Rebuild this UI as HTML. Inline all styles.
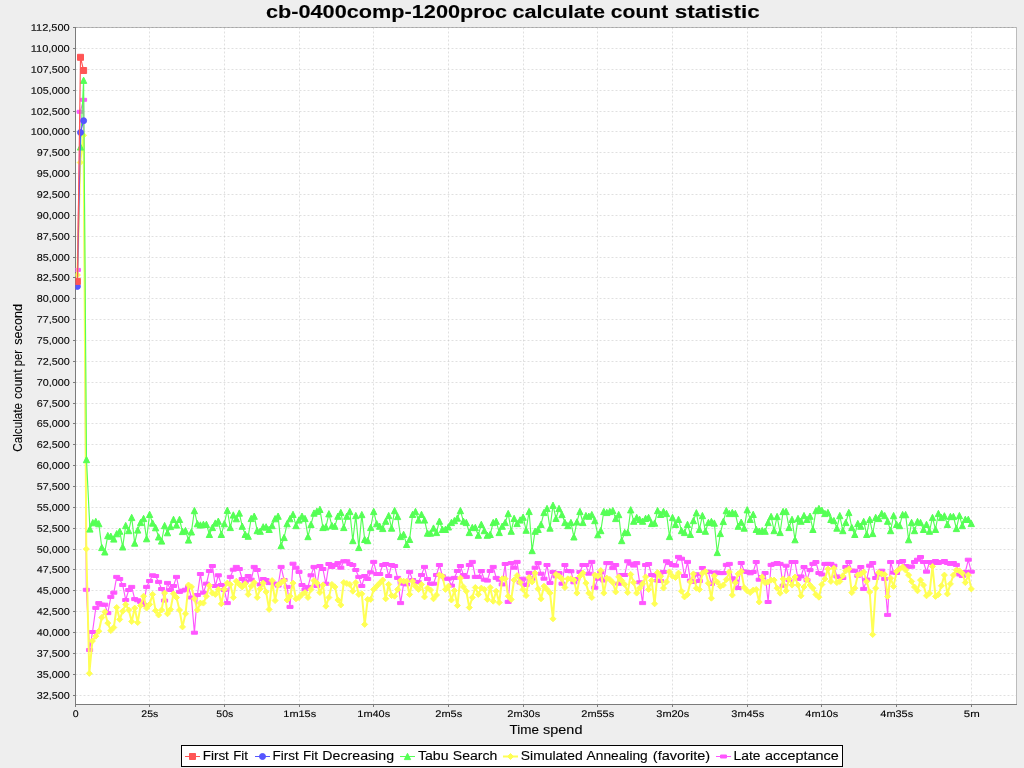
<!DOCTYPE html><html><head><meta charset="utf-8"><title>chart</title><style>html,body{margin:0;padding:0;background:#eeeeee;overflow:hidden}svg{display:block}text{font-family:"Liberation Sans",sans-serif;fill:#000}</style></head><body>
<svg width="1024" height="768" viewBox="0 0 1024 768">
<rect x="0" y="0" width="1024" height="768" fill="#eeeeee"/>
<rect x="76" y="28" width="940" height="676" fill="#ffffff"/>
<path d="M75.5 695.5H1016.5 M75.5 674.5H1016.5 M75.5 653.5H1016.5 M75.5 632.5H1016.5 M75.5 611.5H1016.5 M75.5 590.5H1016.5 M75.5 569.5H1016.5 M75.5 549.5H1016.5 M75.5 528.5H1016.5 M75.5 507.5H1016.5 M75.5 486.5H1016.5 M75.5 465.5H1016.5 M75.5 444.5H1016.5 M75.5 423.5H1016.5 M75.5 403.5H1016.5 M75.5 382.5H1016.5 M75.5 361.5H1016.5 M75.5 340.5H1016.5 M75.5 319.5H1016.5 M75.5 298.5H1016.5 M75.5 277.5H1016.5 M75.5 257.5H1016.5 M75.5 236.5H1016.5 M75.5 215.5H1016.5 M75.5 194.5H1016.5 M75.5 173.5H1016.5 M75.5 152.5H1016.5 M75.5 131.5H1016.5 M75.5 111.5H1016.5 M75.5 90.5H1016.5 M75.5 69.5H1016.5 M75.5 48.5H1016.5 M149.5 27.5V704.5 M224.5 27.5V704.5 M299.5 27.5V704.5 M373.5 27.5V704.5 M448.5 27.5V704.5 M523.5 27.5V704.5 M597.5 27.5V704.5 M672.5 27.5V704.5 M747.5 27.5V704.5 M821.5 27.5V704.5 M896.5 27.5V704.5 M971.5 27.5V704.5" stroke="#c0c0c0" stroke-width="0.5" stroke-dasharray="2 2" fill="none"/>
<path d="M75.5 27.5H1016.5V704.5" stroke="#bcbcbc" stroke-width="1" fill="none"/>
<path d="M75.5 27.5H1016.5" stroke="#909090" stroke-width="0.5" stroke-dasharray="2 2" fill="none"/>
<path d="M75.5 27V705M75 704.5H1017" stroke="#7b7b7b" stroke-width="1" fill="none" shape-rendering="crispEdges"/>
<path d="M73 695.5H75 M73 674.5H75 M73 653.5H75 M73 632.5H75 M73 611.5H75 M73 590.5H75 M73 569.5H75 M73 549.5H75 M73 528.5H75 M73 507.5H75 M73 486.5H75 M73 465.5H75 M73 444.5H75 M73 423.5H75 M73 403.5H75 M73 382.5H75 M73 361.5H75 M73 340.5H75 M73 319.5H75 M73 298.5H75 M73 277.5H75 M73 257.5H75 M73 236.5H75 M73 215.5H75 M73 194.5H75 M73 173.5H75 M73 152.5H75 M73 131.5H75 M73 111.5H75 M73 90.5H75 M73 69.5H75 M73 48.5H75 M73 27.5H75 M75.5 705V707 M149.5 705V707 M224.5 705V707 M299.5 705V707 M373.5 705V707 M448.5 705V707 M523.5 705V707 M597.5 705V707 M672.5 705V707 M747.5 705V707 M821.5 705V707 M896.5 705V707 M971.5 705V707" stroke="#7b7b7b" stroke-width="1" fill="none" shape-rendering="crispEdges"/>
<clipPath id="c"><rect x="75.5" y="27.5" width="941" height="677"/></clipPath><g clip-path="url(#c)">
<path d="M77.4 269.9 L80.2 111.8 L83.6 99.8 L86.3 589.8 L89.6 650.0 L92.5 632.0 L95.8 607.9 L98.8 603.1 L101.8 604.8 L104.8 604.8 L107.8 613.1 L110.8 596.9 L113.8 592.8 L116.7 576.9 L119.7 579.0 L122.7 585.0 L125.7 600.0 L128.7 590.0 L131.7 586.9 L134.7 599.1 L137.7 600.2 L140.6 601.9 L143.6 604.8 L146.6 586.9 L149.6 581.0 L152.6 575.2 L155.6 576.0 L158.6 581.9 L161.6 589.0 L164.6 600.6 L167.5 582.9 L170.5 590.0 L173.5 586.0 L176.5 576.9 L179.5 591.9 L182.5 590.6 L185.5 589.8 L188.5 586.9 L191.4 597.5 L194.4 632.8 L197.4 595.0 L200.4 574.0 L203.4 592.8 L206.4 583.8 L209.4 571.0 L212.4 566.0 L215.3 586.0 L218.3 575.2 L221.3 585.0 L224.3 590.0 L227.3 603.1 L230.3 576.9 L233.3 569.8 L236.3 566.9 L239.3 569.0 L242.2 579.0 L245.2 581.9 L248.2 576.0 L251.2 579.8 L254.2 566.9 L257.2 570.0 L260.2 584.4 L263.2 579.0 L266.1 580.0 L269.1 583.1 L272.1 583.1 L275.1 583.8 L278.1 585.6 L281.1 566.9 L284.1 580.0 L287.1 586.9 L290.0 606.9 L293.0 563.8 L296.0 567.8 L299.0 571.9 L302.0 585.0 L305.0 589.4 L308.0 586.9 L311.0 575.2 L314.0 566.9 L316.9 586.0 L319.9 566.0 L322.9 569.0 L325.9 583.8 L328.9 564.0 L331.9 566.9 L334.9 565.0 L337.9 563.1 L340.8 567.8 L343.8 561.2 L346.8 561.2 L349.8 564.0 L352.8 565.0 L355.8 570.0 L358.8 576.9 L361.8 586.0 L364.7 576.0 L367.7 579.0 L370.7 572.2 L373.7 561.9 L376.7 574.0 L379.7 574.0 L382.7 565.0 L385.7 564.0 L388.7 576.0 L391.6 565.0 L394.6 566.0 L397.6 577.9 L400.6 603.1 L403.6 583.8 L406.6 584.4 L409.6 571.9 L412.6 580.0 L415.5 581.9 L418.5 582.2 L421.5 575.0 L424.5 566.9 L427.5 579.0 L430.5 583.8 L433.5 583.8 L436.5 575.0 L439.4 565.0 L442.4 576.2 L445.4 578.8 L448.4 578.8 L451.4 585.6 L454.4 577.9 L457.4 571.0 L460.4 566.0 L463.4 575.0 L466.3 576.9 L469.3 565.0 L472.3 561.9 L475.3 576.9 L478.3 576.9 L481.3 571.0 L484.3 579.8 L487.3 580.6 L490.2 571.0 L493.2 566.9 L496.2 577.9 L499.2 579.8 L502.2 584.4 L505.2 564.0 L508.2 601.9 L511.2 563.1 L514.1 567.8 L517.1 561.9 L520.1 582.5 L523.1 578.8 L526.1 585.0 L529.1 572.9 L532.1 578.8 L535.1 567.8 L538.1 563.1 L541.0 573.8 L544.0 578.8 L547.0 565.0 L550.0 582.9 L553.0 571.9 L556.0 576.2 L559.0 573.1 L562.0 583.8 L564.9 565.0 L567.9 571.0 L570.9 571.2 L573.9 582.2 L576.9 579.0 L579.9 571.9 L582.9 565.0 L585.9 565.0 L588.8 573.8 L591.8 561.9 L594.8 587.8 L597.8 578.8 L600.8 572.5 L603.8 580.6 L606.8 563.1 L609.8 563.1 L612.8 568.1 L615.7 565.0 L618.7 583.8 L621.7 575.0 L624.7 575.0 L627.7 561.2 L630.7 563.8 L633.7 565.6 L636.7 563.1 L639.6 582.2 L642.6 603.1 L645.6 565.0 L648.6 564.0 L651.6 575.0 L654.6 575.6 L657.6 580.6 L660.6 581.0 L663.5 571.9 L666.5 561.2 L669.5 563.1 L672.5 565.0 L675.5 565.6 L678.5 556.9 L681.5 558.8 L684.5 576.0 L687.5 561.9 L690.4 580.6 L693.4 582.0 L696.4 574.2 L699.4 581.0 L702.4 568.0 L705.4 572.0 L708.4 571.8 L711.4 583.9 L714.3 572.5 L717.3 572.5 L720.3 573.1 L723.3 573.1 L726.3 564.9 L729.3 563.9 L732.3 578.2 L735.3 581.4 L738.2 588.0 L741.2 563.0 L744.2 571.4 L747.2 572.0 L750.2 573.2 L753.2 572.0 L756.2 562.0 L759.2 579.8 L762.2 577.0 L765.1 573.0 L768.1 602.0 L771.1 564.9 L774.1 563.9 L777.1 563.0 L780.1 563.9 L783.1 585.8 L786.1 565.8 L789.0 580.1 L792.0 562.0 L795.0 562.0 L798.0 578.9 L801.0 576.4 L804.0 567.0 L807.0 580.1 L810.0 570.1 L812.9 563.9 L815.9 562.0 L818.9 573.0 L821.9 574.5 L824.9 563.9 L827.9 563.9 L830.9 563.9 L833.9 565.8 L836.9 576.4 L839.8 577.0 L842.8 578.0 L845.8 567.0 L848.8 562.0 L851.8 570.8 L854.8 570.8 L857.8 575.8 L860.8 567.0 L863.7 588.9 L866.7 579.5 L869.7 565.8 L872.7 563.0 L875.7 578.0 L878.7 574.5 L881.7 570.8 L884.7 578.9 L887.6 614.9 L890.6 562.0 L893.6 572.6 L896.6 573.0 L899.6 562.0 L902.6 561.0 L905.6 566.0 L908.6 566.8 L911.6 566.8 L914.5 562.0 L917.5 559.8 L920.5 557.0 L923.5 562.0 L926.5 571.8 L929.5 562.0 L932.5 563.0 L935.5 561.0 L938.4 563.0 L941.4 562.0 L944.4 561.0 L947.4 563.0 L950.4 563.9 L953.4 563.0 L956.4 564.9 L959.4 574.5 L962.3 576.0 L965.3 572.0 L968.3 559.8 L971.3 571.8" stroke="#ff55ff" stroke-width="1.15" fill="none" stroke-linejoin="round" opacity="1.0"/>
<path d="M74.4 268.4h6v3h-6zM77.2 110.3h6v3h-6zM80.6 98.3h6v3h-6zM83.3 588.3h6v3h-6zM86.6 648.5h6v3h-6zM89.5 630.5h6v3h-6zM92.8 606.4h6v3h-6zM95.8 601.6h6v3h-6zM98.8 603.2h6v3h-6zM101.8 603.2h6v3h-6zM104.8 611.6h6v3h-6zM107.8 595.4h6v3h-6zM110.8 591.2h6v3h-6zM113.7 575.4h6v3h-6zM116.7 577.5h6v3h-6zM119.7 583.5h6v3h-6zM122.7 598.5h6v3h-6zM125.7 588.5h6v3h-6zM128.7 585.4h6v3h-6zM131.7 597.6h6v3h-6zM134.7 598.8h6v3h-6zM137.6 600.4h6v3h-6zM140.6 603.2h6v3h-6zM143.6 585.4h6v3h-6zM146.6 579.5h6v3h-6zM149.6 573.8h6v3h-6zM152.6 574.5h6v3h-6zM155.6 580.4h6v3h-6zM158.6 587.5h6v3h-6zM161.6 599.1h6v3h-6zM164.5 581.4h6v3h-6zM167.5 588.5h6v3h-6zM170.5 584.5h6v3h-6zM173.5 575.4h6v3h-6zM176.5 590.4h6v3h-6zM179.5 589.1h6v3h-6zM182.5 588.2h6v3h-6zM185.5 585.4h6v3h-6zM188.4 596.0h6v3h-6zM191.4 631.2h6v3h-6zM194.4 593.5h6v3h-6zM197.4 572.5h6v3h-6zM200.4 591.2h6v3h-6zM203.4 582.2h6v3h-6zM206.4 569.5h6v3h-6zM209.4 564.5h6v3h-6zM212.3 584.5h6v3h-6zM215.3 573.8h6v3h-6zM218.3 583.5h6v3h-6zM221.3 588.5h6v3h-6zM224.3 601.6h6v3h-6zM227.3 575.4h6v3h-6zM230.3 568.2h6v3h-6zM233.3 565.4h6v3h-6zM236.3 567.5h6v3h-6zM239.2 577.5h6v3h-6zM242.2 580.4h6v3h-6zM245.2 574.5h6v3h-6zM248.2 578.2h6v3h-6zM251.2 565.4h6v3h-6zM254.2 568.5h6v3h-6zM257.2 582.9h6v3h-6zM260.2 577.5h6v3h-6zM263.1 578.5h6v3h-6zM266.1 581.6h6v3h-6zM269.1 581.6h6v3h-6zM272.1 582.2h6v3h-6zM275.1 584.1h6v3h-6zM278.1 565.4h6v3h-6zM281.1 578.5h6v3h-6zM284.1 585.4h6v3h-6zM287.0 605.4h6v3h-6zM290.0 562.2h6v3h-6zM293.0 566.2h6v3h-6zM296.0 570.4h6v3h-6zM299.0 583.5h6v3h-6zM302.0 587.9h6v3h-6zM305.0 585.4h6v3h-6zM308.0 573.8h6v3h-6zM311.0 565.4h6v3h-6zM313.9 584.5h6v3h-6zM316.9 564.5h6v3h-6zM319.9 567.5h6v3h-6zM322.9 582.2h6v3h-6zM325.9 562.5h6v3h-6zM328.9 565.4h6v3h-6zM331.9 563.5h6v3h-6zM334.9 561.6h6v3h-6zM337.8 566.2h6v3h-6zM340.8 559.8h6v3h-6zM343.8 559.8h6v3h-6zM346.8 562.5h6v3h-6zM349.8 563.5h6v3h-6zM352.8 568.5h6v3h-6zM355.8 575.4h6v3h-6zM358.8 584.5h6v3h-6zM361.7 574.5h6v3h-6zM364.7 577.5h6v3h-6zM367.7 570.8h6v3h-6zM370.7 560.4h6v3h-6zM373.7 572.5h6v3h-6zM376.7 572.5h6v3h-6zM379.7 563.5h6v3h-6zM382.7 562.5h6v3h-6zM385.7 574.5h6v3h-6zM388.6 563.5h6v3h-6zM391.6 564.5h6v3h-6zM394.6 576.4h6v3h-6zM397.6 601.6h6v3h-6zM400.6 582.2h6v3h-6zM403.6 582.9h6v3h-6zM406.6 570.4h6v3h-6zM409.6 578.5h6v3h-6zM412.5 580.4h6v3h-6zM415.5 580.8h6v3h-6zM418.5 573.5h6v3h-6zM421.5 565.4h6v3h-6zM424.5 577.5h6v3h-6zM427.5 582.2h6v3h-6zM430.5 582.2h6v3h-6zM433.5 573.5h6v3h-6zM436.4 563.5h6v3h-6zM439.4 574.8h6v3h-6zM442.4 577.2h6v3h-6zM445.4 577.2h6v3h-6zM448.4 584.1h6v3h-6zM451.4 576.4h6v3h-6zM454.4 569.5h6v3h-6zM457.4 564.5h6v3h-6zM460.4 573.5h6v3h-6zM463.3 575.4h6v3h-6zM466.3 563.5h6v3h-6zM469.3 560.4h6v3h-6zM472.3 575.4h6v3h-6zM475.3 575.4h6v3h-6zM478.3 569.5h6v3h-6zM481.3 578.2h6v3h-6zM484.3 579.1h6v3h-6zM487.2 569.5h6v3h-6zM490.2 565.4h6v3h-6zM493.2 576.4h6v3h-6zM496.2 578.2h6v3h-6zM499.2 582.9h6v3h-6zM502.2 562.5h6v3h-6zM505.2 600.4h6v3h-6zM508.2 561.6h6v3h-6zM511.1 566.2h6v3h-6zM514.1 560.4h6v3h-6zM517.1 581.0h6v3h-6zM520.1 577.2h6v3h-6zM523.1 583.5h6v3h-6zM526.1 571.4h6v3h-6zM529.1 577.2h6v3h-6zM532.1 566.2h6v3h-6zM535.1 561.6h6v3h-6zM538.0 572.2h6v3h-6zM541.0 577.2h6v3h-6zM544.0 563.5h6v3h-6zM547.0 581.4h6v3h-6zM550.0 570.4h6v3h-6zM553.0 574.8h6v3h-6zM556.0 571.6h6v3h-6zM559.0 582.2h6v3h-6zM561.9 563.5h6v3h-6zM564.9 569.5h6v3h-6zM567.9 569.8h6v3h-6zM570.9 580.8h6v3h-6zM573.9 577.5h6v3h-6zM576.9 570.4h6v3h-6zM579.9 563.5h6v3h-6zM582.9 563.5h6v3h-6zM585.8 572.2h6v3h-6zM588.8 560.4h6v3h-6zM591.8 586.2h6v3h-6zM594.8 577.2h6v3h-6zM597.8 571.0h6v3h-6zM600.8 579.1h6v3h-6zM603.8 561.6h6v3h-6zM606.8 561.6h6v3h-6zM609.8 566.6h6v3h-6zM612.7 563.5h6v3h-6zM615.7 582.2h6v3h-6zM618.7 573.5h6v3h-6zM621.7 573.5h6v3h-6zM624.7 559.8h6v3h-6zM627.7 562.2h6v3h-6zM630.7 564.1h6v3h-6zM633.7 561.6h6v3h-6zM636.6 580.8h6v3h-6zM639.6 601.6h6v3h-6zM642.6 563.5h6v3h-6zM645.6 562.5h6v3h-6zM648.6 573.5h6v3h-6zM651.6 574.1h6v3h-6zM654.6 579.1h6v3h-6zM657.6 579.5h6v3h-6zM660.5 570.4h6v3h-6zM663.5 559.8h6v3h-6zM666.5 561.6h6v3h-6zM669.5 563.5h6v3h-6zM672.5 564.1h6v3h-6zM675.5 555.4h6v3h-6zM678.5 557.2h6v3h-6zM681.5 574.5h6v3h-6zM684.5 560.4h6v3h-6zM687.4 579.1h6v3h-6zM690.4 580.5h6v3h-6zM693.4 572.8h6v3h-6zM696.4 579.5h6v3h-6zM699.4 566.5h6v3h-6zM702.4 570.5h6v3h-6zM705.4 570.2h6v3h-6zM708.4 582.4h6v3h-6zM711.3 571.0h6v3h-6zM714.3 571.0h6v3h-6zM717.3 571.6h6v3h-6zM720.3 571.6h6v3h-6zM723.3 563.4h6v3h-6zM726.3 562.4h6v3h-6zM729.3 576.8h6v3h-6zM732.3 579.9h6v3h-6zM735.2 586.5h6v3h-6zM738.2 561.5h6v3h-6zM741.2 569.9h6v3h-6zM744.2 570.5h6v3h-6zM747.2 571.8h6v3h-6zM750.2 570.5h6v3h-6zM753.2 560.5h6v3h-6zM756.2 578.2h6v3h-6zM759.2 575.5h6v3h-6zM762.1 571.5h6v3h-6zM765.1 600.5h6v3h-6zM768.1 563.4h6v3h-6zM771.1 562.4h6v3h-6zM774.1 561.5h6v3h-6zM777.1 562.4h6v3h-6zM780.1 584.2h6v3h-6zM783.1 564.2h6v3h-6zM786.0 578.6h6v3h-6zM789.0 560.5h6v3h-6zM792.0 560.5h6v3h-6zM795.0 577.4h6v3h-6zM798.0 574.9h6v3h-6zM801.0 565.5h6v3h-6zM804.0 578.6h6v3h-6zM807.0 568.6h6v3h-6zM809.9 562.4h6v3h-6zM812.9 560.5h6v3h-6zM815.9 571.5h6v3h-6zM818.9 573.0h6v3h-6zM821.9 562.4h6v3h-6zM824.9 562.4h6v3h-6zM827.9 562.4h6v3h-6zM830.9 564.2h6v3h-6zM833.9 574.9h6v3h-6zM836.8 575.5h6v3h-6zM839.8 576.5h6v3h-6zM842.8 565.5h6v3h-6zM845.8 560.5h6v3h-6zM848.8 569.2h6v3h-6zM851.8 569.2h6v3h-6zM854.8 574.2h6v3h-6zM857.8 565.5h6v3h-6zM860.7 587.4h6v3h-6zM863.7 578.0h6v3h-6zM866.7 564.2h6v3h-6zM869.7 561.5h6v3h-6zM872.7 576.5h6v3h-6zM875.7 573.0h6v3h-6zM878.7 569.2h6v3h-6zM881.7 577.4h6v3h-6zM884.6 613.4h6v3h-6zM887.6 560.5h6v3h-6zM890.6 571.1h6v3h-6zM893.6 571.5h6v3h-6zM896.6 560.5h6v3h-6zM899.6 559.5h6v3h-6zM902.6 564.5h6v3h-6zM905.6 565.2h6v3h-6zM908.6 565.2h6v3h-6zM911.5 560.5h6v3h-6zM914.5 558.2h6v3h-6zM917.5 555.5h6v3h-6zM920.5 560.5h6v3h-6zM923.5 570.2h6v3h-6zM926.5 560.5h6v3h-6zM929.5 561.5h6v3h-6zM932.5 559.5h6v3h-6zM935.4 561.5h6v3h-6zM938.4 560.5h6v3h-6zM941.4 559.5h6v3h-6zM944.4 561.5h6v3h-6zM947.4 562.4h6v3h-6zM950.4 561.5h6v3h-6zM953.4 563.4h6v3h-6zM956.4 573.0h6v3h-6zM959.3 574.5h6v3h-6zM962.3 570.5h6v3h-6zM965.3 558.2h6v3h-6zM968.3 570.2h6v3h-6z" fill="#ff55ff" stroke="#ff55ff" stroke-width="1" stroke-linejoin="miter"/>
<path d="M77.4 275.0 L80.2 162.5 L83.6 135.4 L86.3 549.0 L89.3 673.4 L92.4 641.0 L95.8 636.2 L98.8 631.2 L101.8 617.5 L104.8 611.9 L107.8 623.1 L110.8 630.6 L113.8 627.5 L116.7 607.5 L119.7 619.4 L122.7 611.2 L125.7 604.4 L128.7 610.0 L131.7 621.5 L134.7 608.1 L137.7 622.5 L140.6 605.6 L143.6 596.2 L146.6 608.1 L149.6 604.4 L152.6 594.4 L155.6 610.6 L158.6 615.0 L161.6 610.0 L164.6 593.1 L167.5 613.8 L170.5 609.4 L173.5 593.8 L176.5 597.5 L179.5 610.0 L182.5 626.9 L185.5 613.8 L188.5 585.0 L191.4 586.9 L194.4 598.8 L197.4 610.0 L200.4 603.1 L203.4 603.1 L206.4 596.2 L209.4 585.6 L212.4 593.1 L215.3 594.4 L218.3 589.4 L221.3 603.8 L224.3 589.4 L227.3 583.1 L230.3 584.4 L233.3 597.5 L236.3 581.2 L239.3 584.4 L242.2 586.9 L245.2 583.8 L248.2 594.4 L251.2 586.2 L254.2 582.5 L257.2 597.5 L260.2 588.8 L263.2 583.1 L266.1 591.9 L269.1 609.4 L272.1 580.6 L275.1 600.6 L278.1 585.0 L281.1 582.5 L284.1 580.6 L287.1 600.0 L290.0 596.2 L293.0 583.1 L296.0 598.8 L299.0 597.5 L302.0 594.4 L305.0 592.5 L308.0 597.5 L311.0 589.4 L314.0 580.6 L316.9 583.1 L319.9 592.5 L322.9 585.0 L325.9 606.2 L328.9 597.5 L331.9 584.4 L334.9 586.9 L337.9 600.0 L340.8 605.0 L343.8 582.5 L346.8 583.5 L349.8 584.4 L352.8 591.2 L355.8 582.5 L358.8 594.4 L361.8 593.8 L364.7 624.4 L367.7 599.4 L370.7 599.4 L373.7 589.4 L376.7 586.2 L379.7 583.1 L382.7 580.0 L385.7 598.8 L388.7 584.4 L391.6 595.6 L394.6 596.2 L397.6 589.4 L400.6 580.6 L403.6 581.2 L406.6 581.2 L409.6 594.4 L412.6 581.2 L415.5 586.2 L418.5 589.4 L421.5 584.4 L424.5 596.9 L427.5 588.1 L430.5 590.0 L433.5 598.8 L436.5 595.0 L439.4 575.0 L442.4 576.2 L445.4 589.4 L448.4 586.2 L451.4 600.0 L454.4 590.6 L457.4 605.6 L460.4 578.1 L463.4 586.9 L466.3 591.2 L469.3 607.5 L472.3 597.5 L475.3 587.5 L478.3 594.4 L481.3 588.1 L484.3 589.4 L487.3 599.4 L490.2 587.5 L493.2 601.2 L496.2 591.2 L499.2 602.5 L502.2 578.8 L505.2 578.8 L508.2 596.2 L511.2 599.4 L514.1 580.0 L517.1 575.6 L520.1 582.5 L523.1 589.4 L526.1 595.6 L529.1 577.5 L532.1 581.9 L535.1 573.1 L538.1 588.8 L541.0 598.8 L544.0 586.2 L547.0 589.4 L550.0 593.1 L553.0 618.8 L556.0 574.4 L559.0 576.2 L562.0 578.8 L564.9 587.5 L567.9 578.8 L570.9 578.8 L573.9 580.0 L576.9 593.1 L579.9 576.2 L582.9 573.1 L585.9 583.1 L588.8 593.1 L591.8 597.5 L594.8 575.0 L597.8 576.2 L600.8 570.6 L603.8 593.1 L606.8 578.1 L609.8 579.4 L612.8 582.5 L615.7 591.9 L618.7 576.9 L621.7 580.6 L624.7 584.4 L627.7 592.5 L630.7 574.4 L633.7 582.5 L636.7 593.1 L639.6 588.1 L642.6 583.8 L645.6 576.9 L648.6 589.4 L651.6 580.6 L654.6 603.8 L657.6 572.5 L660.6 576.2 L663.5 588.1 L666.5 581.9 L669.5 571.9 L672.5 576.2 L675.5 577.5 L678.5 573.1 L681.5 591.2 L684.5 596.9 L687.5 594.4 L690.4 581.9 L693.4 573.9 L696.4 588.2 L699.4 589.5 L702.4 573.2 L705.4 571.4 L708.4 583.2 L711.4 598.2 L714.3 575.8 L717.3 582.0 L720.3 586.4 L723.3 585.1 L726.3 579.5 L729.3 572.0 L732.3 595.1 L735.3 582.6 L738.2 573.9 L741.2 571.4 L744.2 587.6 L747.2 590.8 L750.2 592.6 L753.2 590.1 L756.2 589.5 L759.2 602.0 L762.2 577.0 L765.1 582.6 L768.1 582.0 L771.1 580.1 L774.1 580.1 L777.1 588.2 L780.1 593.2 L783.1 578.9 L786.1 590.8 L789.0 578.9 L792.0 585.1 L795.0 577.0 L798.0 585.1 L801.0 595.8 L804.0 587.0 L807.0 579.5 L810.0 585.1 L812.9 588.2 L815.9 594.5 L818.9 597.2 L821.9 584.5 L824.9 578.9 L827.9 568.9 L830.9 581.4 L833.9 568.2 L836.9 582.6 L839.8 581.4 L842.8 575.8 L845.8 570.8 L848.8 568.9 L851.8 592.6 L854.8 588.2 L857.8 575.1 L860.8 573.9 L863.7 572.0 L866.7 581.4 L869.7 592.0 L872.7 634.5 L875.7 588.2 L878.7 572.6 L881.7 573.9 L884.7 574.5 L887.6 596.4 L890.6 578.2 L893.6 586.4 L896.6 571.4 L899.6 568.9 L902.6 567.0 L905.6 570.1 L908.6 575.1 L911.6 581.4 L914.5 587.0 L917.5 590.8 L920.5 580.1 L923.5 585.1 L926.5 595.8 L929.5 593.2 L932.5 566.4 L935.5 596.4 L938.4 594.5 L941.4 585.8 L944.4 575.1 L947.4 593.9 L950.4 583.9 L953.4 575.1 L956.4 570.1 L959.4 570.8 L962.3 573.2 L965.3 582.6 L968.3 575.1 L971.3 588.9" stroke="#ffff55" stroke-width="2" fill="none" stroke-linejoin="round" opacity="1.0"/>
<path d="M77.4 272.0l3 3l-3 3l-3-3zM80.2 159.5l3 3l-3 3l-3-3zM83.6 132.4l3 3l-3 3l-3-3zM86.3 546.0l3 3l-3 3l-3-3zM89.3 670.4l3 3l-3 3l-3-3zM92.4 638.0l3 3l-3 3l-3-3zM95.8 633.2l3 3l-3 3l-3-3zM98.8 628.2l3 3l-3 3l-3-3zM101.8 614.5l3 3l-3 3l-3-3zM104.8 608.9l3 3l-3 3l-3-3zM107.8 620.1l3 3l-3 3l-3-3zM110.8 627.6l3 3l-3 3l-3-3zM113.8 624.5l3 3l-3 3l-3-3zM116.7 604.5l3 3l-3 3l-3-3zM119.7 616.4l3 3l-3 3l-3-3zM122.7 608.2l3 3l-3 3l-3-3zM125.7 601.4l3 3l-3 3l-3-3zM128.7 607.0l3 3l-3 3l-3-3zM131.7 618.5l3 3l-3 3l-3-3zM134.7 605.1l3 3l-3 3l-3-3zM137.7 619.5l3 3l-3 3l-3-3zM140.6 602.6l3 3l-3 3l-3-3zM143.6 593.2l3 3l-3 3l-3-3zM146.6 605.1l3 3l-3 3l-3-3zM149.6 601.4l3 3l-3 3l-3-3zM152.6 591.4l3 3l-3 3l-3-3zM155.6 607.6l3 3l-3 3l-3-3zM158.6 612.0l3 3l-3 3l-3-3zM161.6 607.0l3 3l-3 3l-3-3zM164.6 590.1l3 3l-3 3l-3-3zM167.5 610.8l3 3l-3 3l-3-3zM170.5 606.4l3 3l-3 3l-3-3zM173.5 590.8l3 3l-3 3l-3-3zM176.5 594.5l3 3l-3 3l-3-3zM179.5 607.0l3 3l-3 3l-3-3zM182.5 623.9l3 3l-3 3l-3-3zM185.5 610.8l3 3l-3 3l-3-3zM188.5 582.0l3 3l-3 3l-3-3zM191.4 583.9l3 3l-3 3l-3-3zM194.4 595.8l3 3l-3 3l-3-3zM197.4 607.0l3 3l-3 3l-3-3zM200.4 600.1l3 3l-3 3l-3-3zM203.4 600.1l3 3l-3 3l-3-3zM206.4 593.2l3 3l-3 3l-3-3zM209.4 582.6l3 3l-3 3l-3-3zM212.4 590.1l3 3l-3 3l-3-3zM215.3 591.4l3 3l-3 3l-3-3zM218.3 586.4l3 3l-3 3l-3-3zM221.3 600.8l3 3l-3 3l-3-3zM224.3 586.4l3 3l-3 3l-3-3zM227.3 580.1l3 3l-3 3l-3-3zM230.3 581.4l3 3l-3 3l-3-3zM233.3 594.5l3 3l-3 3l-3-3zM236.3 578.2l3 3l-3 3l-3-3zM239.3 581.4l3 3l-3 3l-3-3zM242.2 583.9l3 3l-3 3l-3-3zM245.2 580.8l3 3l-3 3l-3-3zM248.2 591.4l3 3l-3 3l-3-3zM251.2 583.2l3 3l-3 3l-3-3zM254.2 579.5l3 3l-3 3l-3-3zM257.2 594.5l3 3l-3 3l-3-3zM260.2 585.8l3 3l-3 3l-3-3zM263.2 580.1l3 3l-3 3l-3-3zM266.1 588.9l3 3l-3 3l-3-3zM269.1 606.4l3 3l-3 3l-3-3zM272.1 577.6l3 3l-3 3l-3-3zM275.1 597.6l3 3l-3 3l-3-3zM278.1 582.0l3 3l-3 3l-3-3zM281.1 579.5l3 3l-3 3l-3-3zM284.1 577.6l3 3l-3 3l-3-3zM287.1 597.0l3 3l-3 3l-3-3zM290.0 593.2l3 3l-3 3l-3-3zM293.0 580.1l3 3l-3 3l-3-3zM296.0 595.8l3 3l-3 3l-3-3zM299.0 594.5l3 3l-3 3l-3-3zM302.0 591.4l3 3l-3 3l-3-3zM305.0 589.5l3 3l-3 3l-3-3zM308.0 594.5l3 3l-3 3l-3-3zM311.0 586.4l3 3l-3 3l-3-3zM314.0 577.6l3 3l-3 3l-3-3zM316.9 580.1l3 3l-3 3l-3-3zM319.9 589.5l3 3l-3 3l-3-3zM322.9 582.0l3 3l-3 3l-3-3zM325.9 603.2l3 3l-3 3l-3-3zM328.9 594.5l3 3l-3 3l-3-3zM331.9 581.4l3 3l-3 3l-3-3zM334.9 583.9l3 3l-3 3l-3-3zM337.9 597.0l3 3l-3 3l-3-3zM340.8 602.0l3 3l-3 3l-3-3zM343.8 579.5l3 3l-3 3l-3-3zM346.8 580.5l3 3l-3 3l-3-3zM349.8 581.4l3 3l-3 3l-3-3zM352.8 588.2l3 3l-3 3l-3-3zM355.8 579.5l3 3l-3 3l-3-3zM358.8 591.4l3 3l-3 3l-3-3zM361.8 590.8l3 3l-3 3l-3-3zM364.7 621.4l3 3l-3 3l-3-3zM367.7 596.4l3 3l-3 3l-3-3zM370.7 596.4l3 3l-3 3l-3-3zM373.7 586.4l3 3l-3 3l-3-3zM376.7 583.2l3 3l-3 3l-3-3zM379.7 580.1l3 3l-3 3l-3-3zM382.7 577.0l3 3l-3 3l-3-3zM385.7 595.8l3 3l-3 3l-3-3zM388.7 581.4l3 3l-3 3l-3-3zM391.6 592.6l3 3l-3 3l-3-3zM394.6 593.2l3 3l-3 3l-3-3zM397.6 586.4l3 3l-3 3l-3-3zM400.6 577.6l3 3l-3 3l-3-3zM403.6 578.2l3 3l-3 3l-3-3zM406.6 578.2l3 3l-3 3l-3-3zM409.6 591.4l3 3l-3 3l-3-3zM412.6 578.2l3 3l-3 3l-3-3zM415.5 583.2l3 3l-3 3l-3-3zM418.5 586.4l3 3l-3 3l-3-3zM421.5 581.4l3 3l-3 3l-3-3zM424.5 593.9l3 3l-3 3l-3-3zM427.5 585.1l3 3l-3 3l-3-3zM430.5 587.0l3 3l-3 3l-3-3zM433.5 595.8l3 3l-3 3l-3-3zM436.5 592.0l3 3l-3 3l-3-3zM439.4 572.0l3 3l-3 3l-3-3zM442.4 573.2l3 3l-3 3l-3-3zM445.4 586.4l3 3l-3 3l-3-3zM448.4 583.2l3 3l-3 3l-3-3zM451.4 597.0l3 3l-3 3l-3-3zM454.4 587.6l3 3l-3 3l-3-3zM457.4 602.6l3 3l-3 3l-3-3zM460.4 575.1l3 3l-3 3l-3-3zM463.4 583.9l3 3l-3 3l-3-3zM466.3 588.2l3 3l-3 3l-3-3zM469.3 604.5l3 3l-3 3l-3-3zM472.3 594.5l3 3l-3 3l-3-3zM475.3 584.5l3 3l-3 3l-3-3zM478.3 591.4l3 3l-3 3l-3-3zM481.3 585.1l3 3l-3 3l-3-3zM484.3 586.4l3 3l-3 3l-3-3zM487.3 596.4l3 3l-3 3l-3-3zM490.2 584.5l3 3l-3 3l-3-3zM493.2 598.2l3 3l-3 3l-3-3zM496.2 588.2l3 3l-3 3l-3-3zM499.2 599.5l3 3l-3 3l-3-3zM502.2 575.8l3 3l-3 3l-3-3zM505.2 575.8l3 3l-3 3l-3-3zM508.2 593.2l3 3l-3 3l-3-3zM511.2 596.4l3 3l-3 3l-3-3zM514.1 577.0l3 3l-3 3l-3-3zM517.1 572.6l3 3l-3 3l-3-3zM520.1 579.5l3 3l-3 3l-3-3zM523.1 586.4l3 3l-3 3l-3-3zM526.1 592.6l3 3l-3 3l-3-3zM529.1 574.5l3 3l-3 3l-3-3zM532.1 578.9l3 3l-3 3l-3-3zM535.1 570.1l3 3l-3 3l-3-3zM538.1 585.8l3 3l-3 3l-3-3zM541.0 595.8l3 3l-3 3l-3-3zM544.0 583.2l3 3l-3 3l-3-3zM547.0 586.4l3 3l-3 3l-3-3zM550.0 590.1l3 3l-3 3l-3-3zM553.0 615.8l3 3l-3 3l-3-3zM556.0 571.4l3 3l-3 3l-3-3zM559.0 573.2l3 3l-3 3l-3-3zM562.0 575.8l3 3l-3 3l-3-3zM564.9 584.5l3 3l-3 3l-3-3zM567.9 575.8l3 3l-3 3l-3-3zM570.9 575.8l3 3l-3 3l-3-3zM573.9 577.0l3 3l-3 3l-3-3zM576.9 590.1l3 3l-3 3l-3-3zM579.9 573.2l3 3l-3 3l-3-3zM582.9 570.1l3 3l-3 3l-3-3zM585.9 580.1l3 3l-3 3l-3-3zM588.8 590.1l3 3l-3 3l-3-3zM591.8 594.5l3 3l-3 3l-3-3zM594.8 572.0l3 3l-3 3l-3-3zM597.8 573.2l3 3l-3 3l-3-3zM600.8 567.6l3 3l-3 3l-3-3zM603.8 590.1l3 3l-3 3l-3-3zM606.8 575.1l3 3l-3 3l-3-3zM609.8 576.4l3 3l-3 3l-3-3zM612.8 579.5l3 3l-3 3l-3-3zM615.7 588.9l3 3l-3 3l-3-3zM618.7 573.9l3 3l-3 3l-3-3zM621.7 577.6l3 3l-3 3l-3-3zM624.7 581.4l3 3l-3 3l-3-3zM627.7 589.5l3 3l-3 3l-3-3zM630.7 571.4l3 3l-3 3l-3-3zM633.7 579.5l3 3l-3 3l-3-3zM636.7 590.1l3 3l-3 3l-3-3zM639.6 585.1l3 3l-3 3l-3-3zM642.6 580.8l3 3l-3 3l-3-3zM645.6 573.9l3 3l-3 3l-3-3zM648.6 586.4l3 3l-3 3l-3-3zM651.6 577.6l3 3l-3 3l-3-3zM654.6 600.8l3 3l-3 3l-3-3zM657.6 569.5l3 3l-3 3l-3-3zM660.6 573.2l3 3l-3 3l-3-3zM663.5 585.1l3 3l-3 3l-3-3zM666.5 578.9l3 3l-3 3l-3-3zM669.5 568.9l3 3l-3 3l-3-3zM672.5 573.2l3 3l-3 3l-3-3zM675.5 574.5l3 3l-3 3l-3-3zM678.5 570.1l3 3l-3 3l-3-3zM681.5 588.2l3 3l-3 3l-3-3zM684.5 593.9l3 3l-3 3l-3-3zM687.5 591.4l3 3l-3 3l-3-3zM690.4 578.9l3 3l-3 3l-3-3zM693.4 570.9l3 3l-3 3l-3-3zM696.4 585.2l3 3l-3 3l-3-3zM699.4 586.5l3 3l-3 3l-3-3zM702.4 570.2l3 3l-3 3l-3-3zM705.4 568.4l3 3l-3 3l-3-3zM708.4 580.2l3 3l-3 3l-3-3zM711.4 595.2l3 3l-3 3l-3-3zM714.3 572.8l3 3l-3 3l-3-3zM717.3 579.0l3 3l-3 3l-3-3zM720.3 583.4l3 3l-3 3l-3-3zM723.3 582.1l3 3l-3 3l-3-3zM726.3 576.5l3 3l-3 3l-3-3zM729.3 569.0l3 3l-3 3l-3-3zM732.3 592.1l3 3l-3 3l-3-3zM735.3 579.6l3 3l-3 3l-3-3zM738.2 570.9l3 3l-3 3l-3-3zM741.2 568.4l3 3l-3 3l-3-3zM744.2 584.6l3 3l-3 3l-3-3zM747.2 587.8l3 3l-3 3l-3-3zM750.2 589.6l3 3l-3 3l-3-3zM753.2 587.1l3 3l-3 3l-3-3zM756.2 586.5l3 3l-3 3l-3-3zM759.2 599.0l3 3l-3 3l-3-3zM762.2 574.0l3 3l-3 3l-3-3zM765.1 579.6l3 3l-3 3l-3-3zM768.1 579.0l3 3l-3 3l-3-3zM771.1 577.1l3 3l-3 3l-3-3zM774.1 577.1l3 3l-3 3l-3-3zM777.1 585.2l3 3l-3 3l-3-3zM780.1 590.2l3 3l-3 3l-3-3zM783.1 575.9l3 3l-3 3l-3-3zM786.1 587.8l3 3l-3 3l-3-3zM789.0 575.9l3 3l-3 3l-3-3zM792.0 582.1l3 3l-3 3l-3-3zM795.0 574.0l3 3l-3 3l-3-3zM798.0 582.1l3 3l-3 3l-3-3zM801.0 592.8l3 3l-3 3l-3-3zM804.0 584.0l3 3l-3 3l-3-3zM807.0 576.5l3 3l-3 3l-3-3zM810.0 582.1l3 3l-3 3l-3-3zM812.9 585.2l3 3l-3 3l-3-3zM815.9 591.5l3 3l-3 3l-3-3zM818.9 594.2l3 3l-3 3l-3-3zM821.9 581.5l3 3l-3 3l-3-3zM824.9 575.9l3 3l-3 3l-3-3zM827.9 565.9l3 3l-3 3l-3-3zM830.9 578.4l3 3l-3 3l-3-3zM833.9 565.2l3 3l-3 3l-3-3zM836.9 579.6l3 3l-3 3l-3-3zM839.8 578.4l3 3l-3 3l-3-3zM842.8 572.8l3 3l-3 3l-3-3zM845.8 567.8l3 3l-3 3l-3-3zM848.8 565.9l3 3l-3 3l-3-3zM851.8 589.6l3 3l-3 3l-3-3zM854.8 585.2l3 3l-3 3l-3-3zM857.8 572.1l3 3l-3 3l-3-3zM860.8 570.9l3 3l-3 3l-3-3zM863.7 569.0l3 3l-3 3l-3-3zM866.7 578.4l3 3l-3 3l-3-3zM869.7 589.0l3 3l-3 3l-3-3zM872.7 631.5l3 3l-3 3l-3-3zM875.7 585.2l3 3l-3 3l-3-3zM878.7 569.6l3 3l-3 3l-3-3zM881.7 570.9l3 3l-3 3l-3-3zM884.7 571.5l3 3l-3 3l-3-3zM887.6 593.4l3 3l-3 3l-3-3zM890.6 575.2l3 3l-3 3l-3-3zM893.6 583.4l3 3l-3 3l-3-3zM896.6 568.4l3 3l-3 3l-3-3zM899.6 565.9l3 3l-3 3l-3-3zM902.6 564.0l3 3l-3 3l-3-3zM905.6 567.1l3 3l-3 3l-3-3zM908.6 572.1l3 3l-3 3l-3-3zM911.6 578.4l3 3l-3 3l-3-3zM914.5 584.0l3 3l-3 3l-3-3zM917.5 587.8l3 3l-3 3l-3-3zM920.5 577.1l3 3l-3 3l-3-3zM923.5 582.1l3 3l-3 3l-3-3zM926.5 592.8l3 3l-3 3l-3-3zM929.5 590.2l3 3l-3 3l-3-3zM932.5 563.4l3 3l-3 3l-3-3zM935.5 593.4l3 3l-3 3l-3-3zM938.4 591.5l3 3l-3 3l-3-3zM941.4 582.8l3 3l-3 3l-3-3zM944.4 572.1l3 3l-3 3l-3-3zM947.4 590.9l3 3l-3 3l-3-3zM950.4 580.9l3 3l-3 3l-3-3zM953.4 572.1l3 3l-3 3l-3-3zM956.4 567.1l3 3l-3 3l-3-3zM959.4 567.8l3 3l-3 3l-3-3zM962.3 570.2l3 3l-3 3l-3-3zM965.3 579.6l3 3l-3 3l-3-3zM968.3 572.1l3 3l-3 3l-3-3zM971.3 585.9l3 3l-3 3l-3-3z" fill="#ffff55" stroke="#ffff55" stroke-width="1" stroke-linejoin="miter"/>
<path d="M80.5 147.0 L83.6 80.3 L86.5 459.6 L89.9 529.0 L92.8 522.8 L95.8 521.5 L98.8 523.8 L101.8 547.5 L104.8 551.9 L107.8 535.6 L110.8 536.2 L113.8 539.0 L116.7 533.8 L119.7 531.2 L122.7 546.9 L125.7 525.6 L128.7 530.6 L131.7 517.5 L134.7 543.1 L137.7 530.0 L140.6 522.5 L143.6 518.5 L146.6 538.8 L149.6 514.4 L152.6 523.1 L155.6 527.8 L158.6 536.9 L161.6 541.0 L164.6 525.6 L167.5 532.8 L170.5 526.5 L173.5 519.4 L176.5 525.0 L179.5 519.4 L182.5 531.5 L185.5 530.6 L188.5 540.0 L191.4 531.9 L194.4 510.6 L197.4 523.8 L200.4 525.0 L203.4 524.4 L206.4 524.4 L209.4 534.4 L212.4 527.5 L215.3 523.1 L218.3 521.2 L221.3 534.4 L224.3 523.8 L227.3 510.2 L230.3 527.5 L233.3 515.0 L236.3 518.8 L239.3 513.1 L242.2 526.2 L245.2 534.4 L248.2 536.2 L251.2 518.5 L254.2 516.2 L257.2 530.6 L260.2 531.2 L263.2 526.9 L266.1 526.9 L269.1 529.4 L272.1 525.6 L275.1 518.8 L278.1 516.2 L281.1 545.6 L284.1 537.5 L287.1 523.8 L290.0 518.8 L293.0 514.4 L296.0 525.6 L299.0 520.0 L302.0 516.2 L305.0 518.5 L308.0 536.6 L311.0 524.4 L314.0 513.1 L316.9 511.2 L319.9 509.4 L322.9 527.5 L325.9 526.9 L328.9 513.8 L331.9 525.6 L334.9 526.2 L337.9 516.2 L340.8 512.5 L343.8 527.5 L346.8 516.2 L349.8 511.5 L352.8 540.6 L355.8 515.6 L358.8 547.5 L361.8 514.6 L364.7 539.4 L367.7 540.6 L370.7 527.5 L373.7 511.5 L376.7 523.8 L379.7 526.2 L382.7 528.5 L385.7 521.2 L388.7 515.6 L391.6 528.1 L394.6 510.6 L397.6 516.5 L400.6 536.5 L403.6 534.4 L406.6 544.4 L409.6 539.4 L412.6 514.4 L415.5 511.5 L418.5 520.0 L421.5 514.4 L424.5 520.0 L427.5 533.1 L430.5 533.1 L433.5 528.1 L436.5 532.5 L439.4 521.2 L442.4 529.4 L445.4 529.4 L448.4 526.9 L451.4 522.5 L454.4 520.6 L457.4 518.1 L460.4 510.6 L463.4 521.2 L466.3 522.5 L469.3 532.5 L472.3 527.5 L475.3 527.5 L478.3 535.2 L481.3 524.4 L484.3 530.6 L487.3 535.2 L490.2 534.4 L493.2 522.5 L496.2 521.2 L499.2 532.5 L502.2 526.2 L505.2 522.5 L508.2 513.5 L511.2 531.2 L514.1 518.4 L517.1 523.5 L520.1 520.0 L523.1 517.2 L526.1 530.2 L529.1 511.5 L532.1 550.6 L535.1 531.2 L538.1 529.4 L541.0 524.4 L544.0 512.5 L547.0 508.5 L550.0 528.1 L553.0 505.2 L556.0 518.4 L559.0 508.5 L562.0 514.6 L564.9 522.5 L567.9 525.6 L570.9 522.5 L573.9 536.9 L576.9 521.9 L579.9 511.5 L582.9 522.5 L585.9 515.6 L588.8 516.2 L591.8 514.6 L594.8 520.6 L597.8 534.8 L600.8 530.6 L603.8 511.5 L606.8 512.5 L609.8 511.5 L612.8 510.6 L615.7 518.5 L618.7 514.6 L621.7 540.6 L624.7 532.5 L627.7 532.5 L630.7 509.8 L633.7 521.2 L636.7 517.5 L639.6 519.4 L642.6 521.2 L645.6 518.4 L648.6 517.5 L651.6 523.5 L654.6 523.1 L657.6 510.6 L660.6 514.4 L663.5 511.5 L666.5 513.5 L669.5 536.5 L672.5 517.5 L675.5 524.4 L678.5 519.4 L681.5 530.6 L684.5 532.5 L687.5 524.4 L690.4 534.4 L693.4 520.6 L696.4 512.8 L699.4 529.4 L702.4 515.6 L705.4 531.2 L708.4 522.5 L711.4 521.5 L714.3 523.1 L717.3 552.5 L720.3 533.5 L723.3 521.5 L726.3 510.6 L729.3 513.5 L732.3 512.5 L735.3 513.5 L738.2 526.2 L741.2 522.2 L744.2 528.1 L747.2 509.8 L750.2 519.4 L753.2 514.4 L756.2 529.4 L759.2 531.2 L762.2 530.6 L765.1 531.2 L768.1 522.5 L771.1 516.5 L774.1 530.6 L777.1 516.5 L780.1 532.5 L783.1 511.5 L786.1 511.5 L789.0 527.5 L792.0 519.4 L795.0 539.8 L798.0 518.5 L801.0 521.2 L804.0 515.6 L807.0 519.4 L810.0 516.2 L812.9 529.4 L815.9 510.6 L818.9 508.5 L821.9 510.2 L824.9 513.5 L827.9 512.5 L830.9 519.4 L833.9 520.6 L836.9 528.1 L839.8 515.6 L842.8 530.6 L845.8 522.5 L848.8 512.5 L851.8 527.5 L854.8 534.4 L857.8 523.5 L860.8 526.2 L863.7 521.5 L866.7 534.4 L869.7 519.4 L872.7 533.5 L875.7 517.5 L878.7 518.5 L881.7 513.5 L884.7 515.6 L887.6 521.2 L890.6 530.6 L893.6 515.6 L896.6 524.4 L899.6 525.6 L902.6 514.6 L905.6 514.6 L908.6 539.8 L911.6 522.5 L914.5 530.6 L917.5 521.5 L920.5 522.5 L923.5 529.4 L926.5 524.4 L929.5 531.2 L932.5 517.5 L935.5 529.4 L938.4 513.5 L941.4 517.5 L944.4 515.9 L947.4 524.4 L950.4 516.5 L953.4 516.5 L956.4 528.5 L959.4 515.6 L962.3 525.6 L965.3 519.4 L968.3 519.4 L971.3 523.5" stroke="#55ff55" stroke-width="1.15" fill="none" stroke-linejoin="round" opacity="1.0"/>
<path d="M80.5 143.8l3.15 6.3h-6.3zM83.6 77.1l3.15 6.3h-6.3zM86.5 456.4l3.15 6.3h-6.3zM89.9 525.8l3.15 6.3h-6.3zM92.8 519.5l3.15 6.3h-6.3zM95.8 518.3l3.15 6.3h-6.3zM98.8 520.5l3.15 6.3h-6.3zM101.8 544.3l3.15 6.3h-6.3zM104.8 548.7l3.15 6.3h-6.3zM107.8 532.4l3.15 6.3h-6.3zM110.8 533.0l3.15 6.3h-6.3zM113.8 535.8l3.15 6.3h-6.3zM116.7 530.5l3.15 6.3h-6.3zM119.7 528.0l3.15 6.3h-6.3zM122.7 543.7l3.15 6.3h-6.3zM125.7 522.4l3.15 6.3h-6.3zM128.7 527.4l3.15 6.3h-6.3zM131.7 514.3l3.15 6.3h-6.3zM134.7 539.9l3.15 6.3h-6.3zM137.7 526.8l3.15 6.3h-6.3zM140.6 519.3l3.15 6.3h-6.3zM143.6 515.3l3.15 6.3h-6.3zM146.6 535.5l3.15 6.3h-6.3zM149.6 511.2l3.15 6.3h-6.3zM152.6 519.9l3.15 6.3h-6.3zM155.6 524.5l3.15 6.3h-6.3zM158.6 533.7l3.15 6.3h-6.3zM161.6 537.8l3.15 6.3h-6.3zM164.6 522.4l3.15 6.3h-6.3zM167.5 529.5l3.15 6.3h-6.3zM170.5 523.3l3.15 6.3h-6.3zM173.5 516.2l3.15 6.3h-6.3zM176.5 521.8l3.15 6.3h-6.3zM179.5 516.2l3.15 6.3h-6.3zM182.5 528.3l3.15 6.3h-6.3zM185.5 527.4l3.15 6.3h-6.3zM188.5 536.8l3.15 6.3h-6.3zM191.4 528.7l3.15 6.3h-6.3zM194.4 507.4l3.15 6.3h-6.3zM197.4 520.5l3.15 6.3h-6.3zM200.4 521.8l3.15 6.3h-6.3zM203.4 521.2l3.15 6.3h-6.3zM206.4 521.2l3.15 6.3h-6.3zM209.4 531.2l3.15 6.3h-6.3zM212.4 524.3l3.15 6.3h-6.3zM215.3 519.9l3.15 6.3h-6.3zM218.3 518.0l3.15 6.3h-6.3zM221.3 531.2l3.15 6.3h-6.3zM224.3 520.5l3.15 6.3h-6.3zM227.3 507.1l3.15 6.3h-6.3zM230.3 524.3l3.15 6.3h-6.3zM233.3 511.8l3.15 6.3h-6.3zM236.3 515.5l3.15 6.3h-6.3zM239.3 509.9l3.15 6.3h-6.3zM242.2 523.0l3.15 6.3h-6.3zM245.2 531.2l3.15 6.3h-6.3zM248.2 533.0l3.15 6.3h-6.3zM251.2 515.3l3.15 6.3h-6.3zM254.2 513.0l3.15 6.3h-6.3zM257.2 527.4l3.15 6.3h-6.3zM260.2 528.0l3.15 6.3h-6.3zM263.2 523.7l3.15 6.3h-6.3zM266.1 523.7l3.15 6.3h-6.3zM269.1 526.2l3.15 6.3h-6.3zM272.1 522.4l3.15 6.3h-6.3zM275.1 515.5l3.15 6.3h-6.3zM278.1 513.0l3.15 6.3h-6.3zM281.1 542.4l3.15 6.3h-6.3zM284.1 534.3l3.15 6.3h-6.3zM287.1 520.5l3.15 6.3h-6.3zM290.0 515.5l3.15 6.3h-6.3zM293.0 511.2l3.15 6.3h-6.3zM296.0 522.4l3.15 6.3h-6.3zM299.0 516.8l3.15 6.3h-6.3zM302.0 513.0l3.15 6.3h-6.3zM305.0 515.3l3.15 6.3h-6.3zM308.0 533.4l3.15 6.3h-6.3zM311.0 521.2l3.15 6.3h-6.3zM314.0 509.9l3.15 6.3h-6.3zM316.9 508.1l3.15 6.3h-6.3zM319.9 506.2l3.15 6.3h-6.3zM322.9 524.3l3.15 6.3h-6.3zM325.9 523.7l3.15 6.3h-6.3zM328.9 510.6l3.15 6.3h-6.3zM331.9 522.4l3.15 6.3h-6.3zM334.9 523.0l3.15 6.3h-6.3zM337.9 513.0l3.15 6.3h-6.3zM340.8 509.3l3.15 6.3h-6.3zM343.8 524.3l3.15 6.3h-6.3zM346.8 513.0l3.15 6.3h-6.3zM349.8 508.3l3.15 6.3h-6.3zM352.8 537.4l3.15 6.3h-6.3zM355.8 512.4l3.15 6.3h-6.3zM358.8 544.3l3.15 6.3h-6.3zM361.8 511.4l3.15 6.3h-6.3zM364.7 536.2l3.15 6.3h-6.3zM367.7 537.4l3.15 6.3h-6.3zM370.7 524.3l3.15 6.3h-6.3zM373.7 508.3l3.15 6.3h-6.3zM376.7 520.5l3.15 6.3h-6.3zM379.7 523.0l3.15 6.3h-6.3zM382.7 525.3l3.15 6.3h-6.3zM385.7 518.0l3.15 6.3h-6.3zM388.7 512.4l3.15 6.3h-6.3zM391.6 524.9l3.15 6.3h-6.3zM394.6 507.4l3.15 6.3h-6.3zM397.6 513.3l3.15 6.3h-6.3zM400.6 533.3l3.15 6.3h-6.3zM403.6 531.2l3.15 6.3h-6.3zM406.6 541.2l3.15 6.3h-6.3zM409.6 536.2l3.15 6.3h-6.3zM412.6 511.2l3.15 6.3h-6.3zM415.5 508.3l3.15 6.3h-6.3zM418.5 516.8l3.15 6.3h-6.3zM421.5 511.2l3.15 6.3h-6.3zM424.5 516.8l3.15 6.3h-6.3zM427.5 529.9l3.15 6.3h-6.3zM430.5 529.9l3.15 6.3h-6.3zM433.5 524.9l3.15 6.3h-6.3zM436.5 529.3l3.15 6.3h-6.3zM439.4 518.0l3.15 6.3h-6.3zM442.4 526.2l3.15 6.3h-6.3zM445.4 526.2l3.15 6.3h-6.3zM448.4 523.7l3.15 6.3h-6.3zM451.4 519.3l3.15 6.3h-6.3zM454.4 517.4l3.15 6.3h-6.3zM457.4 514.9l3.15 6.3h-6.3zM460.4 507.4l3.15 6.3h-6.3zM463.4 518.0l3.15 6.3h-6.3zM466.3 519.3l3.15 6.3h-6.3zM469.3 529.3l3.15 6.3h-6.3zM472.3 524.3l3.15 6.3h-6.3zM475.3 524.3l3.15 6.3h-6.3zM478.3 532.0l3.15 6.3h-6.3zM481.3 521.2l3.15 6.3h-6.3zM484.3 527.4l3.15 6.3h-6.3zM487.3 532.0l3.15 6.3h-6.3zM490.2 531.2l3.15 6.3h-6.3zM493.2 519.3l3.15 6.3h-6.3zM496.2 518.0l3.15 6.3h-6.3zM499.2 529.3l3.15 6.3h-6.3zM502.2 523.0l3.15 6.3h-6.3zM505.2 519.3l3.15 6.3h-6.3zM508.2 510.3l3.15 6.3h-6.3zM511.2 528.0l3.15 6.3h-6.3zM514.1 515.2l3.15 6.3h-6.3zM517.1 520.3l3.15 6.3h-6.3zM520.1 516.8l3.15 6.3h-6.3zM523.1 514.0l3.15 6.3h-6.3zM526.1 527.0l3.15 6.3h-6.3zM529.1 508.3l3.15 6.3h-6.3zM532.1 547.4l3.15 6.3h-6.3zM535.1 528.0l3.15 6.3h-6.3zM538.1 526.2l3.15 6.3h-6.3zM541.0 521.2l3.15 6.3h-6.3zM544.0 509.3l3.15 6.3h-6.3zM547.0 505.3l3.15 6.3h-6.3zM550.0 524.9l3.15 6.3h-6.3zM553.0 502.1l3.15 6.3h-6.3zM556.0 515.2l3.15 6.3h-6.3zM559.0 505.3l3.15 6.3h-6.3zM562.0 511.4l3.15 6.3h-6.3zM564.9 519.3l3.15 6.3h-6.3zM567.9 522.4l3.15 6.3h-6.3zM570.9 519.3l3.15 6.3h-6.3zM573.9 533.7l3.15 6.3h-6.3zM576.9 518.7l3.15 6.3h-6.3zM579.9 508.3l3.15 6.3h-6.3zM582.9 519.3l3.15 6.3h-6.3zM585.9 512.4l3.15 6.3h-6.3zM588.8 513.0l3.15 6.3h-6.3zM591.8 511.4l3.15 6.3h-6.3zM594.8 517.4l3.15 6.3h-6.3zM597.8 531.5l3.15 6.3h-6.3zM600.8 527.4l3.15 6.3h-6.3zM603.8 508.3l3.15 6.3h-6.3zM606.8 509.3l3.15 6.3h-6.3zM609.8 508.3l3.15 6.3h-6.3zM612.8 507.4l3.15 6.3h-6.3zM615.7 515.3l3.15 6.3h-6.3zM618.7 511.4l3.15 6.3h-6.3zM621.7 537.4l3.15 6.3h-6.3zM624.7 529.3l3.15 6.3h-6.3zM627.7 529.3l3.15 6.3h-6.3zM630.7 506.6l3.15 6.3h-6.3zM633.7 518.0l3.15 6.3h-6.3zM636.7 514.3l3.15 6.3h-6.3zM639.6 516.2l3.15 6.3h-6.3zM642.6 518.0l3.15 6.3h-6.3zM645.6 515.2l3.15 6.3h-6.3zM648.6 514.3l3.15 6.3h-6.3zM651.6 520.3l3.15 6.3h-6.3zM654.6 519.9l3.15 6.3h-6.3zM657.6 507.4l3.15 6.3h-6.3zM660.6 511.2l3.15 6.3h-6.3zM663.5 508.3l3.15 6.3h-6.3zM666.5 510.3l3.15 6.3h-6.3zM669.5 533.3l3.15 6.3h-6.3zM672.5 514.3l3.15 6.3h-6.3zM675.5 521.2l3.15 6.3h-6.3zM678.5 516.2l3.15 6.3h-6.3zM681.5 527.4l3.15 6.3h-6.3zM684.5 529.3l3.15 6.3h-6.3zM687.5 521.2l3.15 6.3h-6.3zM690.4 531.2l3.15 6.3h-6.3zM693.4 517.4l3.15 6.3h-6.3zM696.4 509.6l3.15 6.3h-6.3zM699.4 526.2l3.15 6.3h-6.3zM702.4 512.4l3.15 6.3h-6.3zM705.4 528.0l3.15 6.3h-6.3zM708.4 519.3l3.15 6.3h-6.3zM711.4 518.3l3.15 6.3h-6.3zM714.3 519.9l3.15 6.3h-6.3zM717.3 549.3l3.15 6.3h-6.3zM720.3 530.3l3.15 6.3h-6.3zM723.3 518.3l3.15 6.3h-6.3zM726.3 507.4l3.15 6.3h-6.3zM729.3 510.3l3.15 6.3h-6.3zM732.3 509.3l3.15 6.3h-6.3zM735.3 510.3l3.15 6.3h-6.3zM738.2 523.0l3.15 6.3h-6.3zM741.2 519.0l3.15 6.3h-6.3zM744.2 524.9l3.15 6.3h-6.3zM747.2 506.6l3.15 6.3h-6.3zM750.2 516.2l3.15 6.3h-6.3zM753.2 511.2l3.15 6.3h-6.3zM756.2 526.2l3.15 6.3h-6.3zM759.2 528.0l3.15 6.3h-6.3zM762.2 527.4l3.15 6.3h-6.3zM765.1 528.0l3.15 6.3h-6.3zM768.1 519.3l3.15 6.3h-6.3zM771.1 513.3l3.15 6.3h-6.3zM774.1 527.4l3.15 6.3h-6.3zM777.1 513.3l3.15 6.3h-6.3zM780.1 529.3l3.15 6.3h-6.3zM783.1 508.3l3.15 6.3h-6.3zM786.1 508.3l3.15 6.3h-6.3zM789.0 524.3l3.15 6.3h-6.3zM792.0 516.2l3.15 6.3h-6.3zM795.0 536.5l3.15 6.3h-6.3zM798.0 515.3l3.15 6.3h-6.3zM801.0 518.0l3.15 6.3h-6.3zM804.0 512.4l3.15 6.3h-6.3zM807.0 516.2l3.15 6.3h-6.3zM810.0 513.0l3.15 6.3h-6.3zM812.9 526.2l3.15 6.3h-6.3zM815.9 507.4l3.15 6.3h-6.3zM818.9 505.3l3.15 6.3h-6.3zM821.9 507.1l3.15 6.3h-6.3zM824.9 510.3l3.15 6.3h-6.3zM827.9 509.3l3.15 6.3h-6.3zM830.9 516.2l3.15 6.3h-6.3zM833.9 517.4l3.15 6.3h-6.3zM836.9 524.9l3.15 6.3h-6.3zM839.8 512.4l3.15 6.3h-6.3zM842.8 527.4l3.15 6.3h-6.3zM845.8 519.3l3.15 6.3h-6.3zM848.8 509.3l3.15 6.3h-6.3zM851.8 524.3l3.15 6.3h-6.3zM854.8 531.2l3.15 6.3h-6.3zM857.8 520.3l3.15 6.3h-6.3zM860.8 523.0l3.15 6.3h-6.3zM863.7 518.3l3.15 6.3h-6.3zM866.7 531.2l3.15 6.3h-6.3zM869.7 516.2l3.15 6.3h-6.3zM872.7 530.3l3.15 6.3h-6.3zM875.7 514.3l3.15 6.3h-6.3zM878.7 515.3l3.15 6.3h-6.3zM881.7 510.3l3.15 6.3h-6.3zM884.7 512.4l3.15 6.3h-6.3zM887.6 518.0l3.15 6.3h-6.3zM890.6 527.4l3.15 6.3h-6.3zM893.6 512.4l3.15 6.3h-6.3zM896.6 521.2l3.15 6.3h-6.3zM899.6 522.4l3.15 6.3h-6.3zM902.6 511.4l3.15 6.3h-6.3zM905.6 511.4l3.15 6.3h-6.3zM908.6 536.5l3.15 6.3h-6.3zM911.6 519.3l3.15 6.3h-6.3zM914.5 527.4l3.15 6.3h-6.3zM917.5 518.3l3.15 6.3h-6.3zM920.5 519.3l3.15 6.3h-6.3zM923.5 526.2l3.15 6.3h-6.3zM926.5 521.2l3.15 6.3h-6.3zM929.5 528.0l3.15 6.3h-6.3zM932.5 514.3l3.15 6.3h-6.3zM935.5 526.2l3.15 6.3h-6.3zM938.4 510.3l3.15 6.3h-6.3zM941.4 514.3l3.15 6.3h-6.3zM944.4 512.7l3.15 6.3h-6.3zM947.4 521.2l3.15 6.3h-6.3zM950.4 513.3l3.15 6.3h-6.3zM953.4 513.3l3.15 6.3h-6.3zM956.4 525.3l3.15 6.3h-6.3zM959.4 512.4l3.15 6.3h-6.3zM962.3 522.4l3.15 6.3h-6.3zM965.3 516.2l3.15 6.3h-6.3zM968.3 516.2l3.15 6.3h-6.3zM971.3 520.3l3.15 6.3h-6.3z" fill="#55ff55" stroke="#55ff55" stroke-width="1" stroke-linejoin="miter"/>
<path d="M77.4 286.4 L80.5 132.5 L83.6 120.7" stroke="#5555ff" stroke-width="1.15" fill="none" stroke-linejoin="round" opacity="1.0"/>
<path d="M74.4 286.4a3 3 0 1 0 6 0a3 3 0 1 0 -6 0zM77.5 132.5a3 3 0 1 0 6 0a3 3 0 1 0 -6 0zM80.6 120.7a3 3 0 1 0 6 0a3 3 0 1 0 -6 0z" fill="#5555ff" stroke="#5555ff" stroke-width="1" stroke-linejoin="miter"/>
<path d="M77.4 281.4 L80.5 57.3 L83.6 70.5" stroke="#ff5555" stroke-width="1.15" fill="none" stroke-linejoin="round" opacity="1.0"/>
<path d="M74.4 278.4h6v6h-6zM77.5 54.3h6v6h-6zM80.6 67.5h6v6h-6z" fill="#ff5555" stroke="#ff5555" stroke-width="1" stroke-linejoin="miter"/>
</g>
<rect x="181.5" y="745.5" width="661" height="21" fill="#ffffff" stroke="#000" stroke-width="1" shape-rendering="crispEdges"/>
<path d="M185.0 756.5H200.0" stroke="#ff5555" stroke-width="1" fill="none"/>
<path d="M189.5 753.5h6v6h-6z" fill="#ff5555" stroke="#ff5555" stroke-width="1"/>
<path d="M255.0 756.5H270.0" stroke="#5555ff" stroke-width="1" fill="none"/>
<path d="M259.5 756.5a3 3 0 1 0 6 0a3 3 0 1 0 -6 0z" fill="#5555ff" stroke="#5555ff" stroke-width="1"/>
<path d="M400.0 756.5H415.0" stroke="#55ff55" stroke-width="1" fill="none"/>
<path d="M407.5 753.3l3.15 6.3h-6.3z" fill="#55ff55" stroke="#55ff55" stroke-width="1"/>
<path d="M503.0 756.5H518.0" stroke="#ffff55" stroke-width="2" fill="none"/>
<path d="M510.5 753.5l3 3l-3 3l-3-3z" fill="#ffff55" stroke="#ffff55" stroke-width="1"/>
<path d="M716.0 756.5H731.0" stroke="#ff55ff" stroke-width="1" fill="none"/>
<path d="M720.5 755.0h6v3h-6z" fill="#ff55ff" stroke="#ff55ff" stroke-width="1"/>
<g opacity="0.999" stroke="#000" stroke-width="0.12">
<text transform="translate(36.7 698.75) rotate(0.03)" font-size="9.5" textLength="33" lengthAdjust="spacingAndGlyphs">32,500</text>
<text transform="translate(36.7 677.75) rotate(0.03)" font-size="9.5" textLength="33" lengthAdjust="spacingAndGlyphs">35,000</text>
<text transform="translate(36.7 656.75) rotate(0.03)" font-size="9.5" textLength="33" lengthAdjust="spacingAndGlyphs">37,500</text>
<text transform="translate(36.7 635.75) rotate(0.03)" font-size="9.5" textLength="33" lengthAdjust="spacingAndGlyphs">40,000</text>
<text transform="translate(36.7 614.75) rotate(0.03)" font-size="9.5" textLength="33" lengthAdjust="spacingAndGlyphs">42,500</text>
<text transform="translate(36.7 593.75) rotate(0.03)" font-size="9.5" textLength="33" lengthAdjust="spacingAndGlyphs">45,000</text>
<text transform="translate(36.7 572.75) rotate(0.03)" font-size="9.5" textLength="33" lengthAdjust="spacingAndGlyphs">47,500</text>
<text transform="translate(36.7 552.75) rotate(0.03)" font-size="9.5" textLength="33" lengthAdjust="spacingAndGlyphs">50,000</text>
<text transform="translate(36.7 531.75) rotate(0.03)" font-size="9.5" textLength="33" lengthAdjust="spacingAndGlyphs">52,500</text>
<text transform="translate(36.7 510.75) rotate(0.03)" font-size="9.5" textLength="33" lengthAdjust="spacingAndGlyphs">55,000</text>
<text transform="translate(36.7 489.75) rotate(0.03)" font-size="9.5" textLength="33" lengthAdjust="spacingAndGlyphs">57,500</text>
<text transform="translate(36.7 468.75) rotate(0.03)" font-size="9.5" textLength="33" lengthAdjust="spacingAndGlyphs">60,000</text>
<text transform="translate(36.7 447.75) rotate(0.03)" font-size="9.5" textLength="33" lengthAdjust="spacingAndGlyphs">62,500</text>
<text transform="translate(36.7 426.75) rotate(0.03)" font-size="9.5" textLength="33" lengthAdjust="spacingAndGlyphs">65,000</text>
<text transform="translate(36.7 406.75) rotate(0.03)" font-size="9.5" textLength="33" lengthAdjust="spacingAndGlyphs">67,500</text>
<text transform="translate(36.7 385.75) rotate(0.03)" font-size="9.5" textLength="33" lengthAdjust="spacingAndGlyphs">70,000</text>
<text transform="translate(36.7 364.75) rotate(0.03)" font-size="9.5" textLength="33" lengthAdjust="spacingAndGlyphs">72,500</text>
<text transform="translate(36.7 343.75) rotate(0.03)" font-size="9.5" textLength="33" lengthAdjust="spacingAndGlyphs">75,000</text>
<text transform="translate(36.7 322.75) rotate(0.03)" font-size="9.5" textLength="33" lengthAdjust="spacingAndGlyphs">77,500</text>
<text transform="translate(36.7 301.75) rotate(0.03)" font-size="9.5" textLength="33" lengthAdjust="spacingAndGlyphs">80,000</text>
<text transform="translate(36.7 280.75) rotate(0.03)" font-size="9.5" textLength="33" lengthAdjust="spacingAndGlyphs">82,500</text>
<text transform="translate(36.7 260.75) rotate(0.03)" font-size="9.5" textLength="33" lengthAdjust="spacingAndGlyphs">85,000</text>
<text transform="translate(36.7 239.75) rotate(0.03)" font-size="9.5" textLength="33" lengthAdjust="spacingAndGlyphs">87,500</text>
<text transform="translate(36.7 218.75) rotate(0.03)" font-size="9.5" textLength="33" lengthAdjust="spacingAndGlyphs">90,000</text>
<text transform="translate(36.7 197.75) rotate(0.03)" font-size="9.5" textLength="33" lengthAdjust="spacingAndGlyphs">92,500</text>
<text transform="translate(36.7 176.75) rotate(0.03)" font-size="9.5" textLength="33" lengthAdjust="spacingAndGlyphs">95,000</text>
<text transform="translate(36.7 155.75) rotate(0.03)" font-size="9.5" textLength="33" lengthAdjust="spacingAndGlyphs">97,500</text>
<text transform="translate(30.700000000000003 134.75) rotate(0.03)" font-size="9.5" textLength="39" lengthAdjust="spacingAndGlyphs">100,000</text>
<text transform="translate(30.700000000000003 114.75) rotate(0.03)" font-size="9.5" textLength="39" lengthAdjust="spacingAndGlyphs">102,500</text>
<text transform="translate(30.700000000000003 93.75) rotate(0.03)" font-size="9.5" textLength="39" lengthAdjust="spacingAndGlyphs">105,000</text>
<text transform="translate(30.700000000000003 72.75) rotate(0.03)" font-size="9.5" textLength="39" lengthAdjust="spacingAndGlyphs">107,500</text>
<text transform="translate(30.700000000000003 51.75) rotate(0.03)" font-size="9.5" textLength="39" lengthAdjust="spacingAndGlyphs">110,000</text>
<text transform="translate(30.700000000000003 30.75) rotate(0.03)" font-size="9.5" textLength="39" lengthAdjust="spacingAndGlyphs">112,500</text>
<text transform="translate(72.8 716.9) rotate(0.03)" font-size="9.5" textLength="5.9" lengthAdjust="spacingAndGlyphs">0</text>
<text transform="translate(141.3 716.9) rotate(0.03)" font-size="9.5" textLength="16.9" lengthAdjust="spacingAndGlyphs">25s</text>
<text transform="translate(216.3 716.9) rotate(0.03)" font-size="9.5" textLength="16.9" lengthAdjust="spacingAndGlyphs">50s</text>
<text transform="translate(283.3 716.9) rotate(0.03)" font-size="9.5" textLength="32.9" lengthAdjust="spacingAndGlyphs">1m15s</text>
<text transform="translate(357.3 716.9) rotate(0.03)" font-size="9.5" textLength="32.9" lengthAdjust="spacingAndGlyphs">1m40s</text>
<text transform="translate(435.3 716.9) rotate(0.03)" font-size="9.5" textLength="26.9" lengthAdjust="spacingAndGlyphs">2m5s</text>
<text transform="translate(507.3 716.9) rotate(0.03)" font-size="9.5" textLength="32.9" lengthAdjust="spacingAndGlyphs">2m30s</text>
<text transform="translate(581.3 716.9) rotate(0.03)" font-size="9.5" textLength="32.9" lengthAdjust="spacingAndGlyphs">2m55s</text>
<text transform="translate(656.3 716.9) rotate(0.03)" font-size="9.5" textLength="32.9" lengthAdjust="spacingAndGlyphs">3m20s</text>
<text transform="translate(731.3 716.9) rotate(0.03)" font-size="9.5" textLength="32.9" lengthAdjust="spacingAndGlyphs">3m45s</text>
<text transform="translate(805.3 716.9) rotate(0.03)" font-size="9.5" textLength="32.9" lengthAdjust="spacingAndGlyphs">4m10s</text>
<text transform="translate(880.3 716.9) rotate(0.03)" font-size="9.5" textLength="32.9" lengthAdjust="spacingAndGlyphs">4m35s</text>
<text transform="translate(963.8 716.9) rotate(0.03)" font-size="9.5" textLength="15.9" lengthAdjust="spacingAndGlyphs">5m</text>
<text x="265.98" y="17.6" font-size="18" font-weight="bold" textLength="241.04" lengthAdjust="spacingAndGlyphs">cb-0400comp-1200proc</text>
<text x="512.55" y="17.6" font-size="18" font-weight="bold" textLength="92.37" lengthAdjust="spacingAndGlyphs">calculate</text>
<text x="610.88" y="17.6" font-size="18" font-weight="bold" textLength="57.42" lengthAdjust="spacingAndGlyphs">count</text>
<text x="674.71" y="17.6" font-size="18" font-weight="bold" textLength="85.02" lengthAdjust="spacingAndGlyphs">statistic</text>
<text x="202.68" y="760" font-size="12" textLength="26.19" lengthAdjust="spacingAndGlyphs">First</text>
<text x="233.19" y="760" font-size="12" textLength="14.81" lengthAdjust="spacingAndGlyphs">Fit</text>
<text x="272.5" y="760" font-size="12" textLength="26.16" lengthAdjust="spacingAndGlyphs">First</text>
<text x="302.99" y="760" font-size="12" textLength="15.03" lengthAdjust="spacingAndGlyphs">Fit</text>
<text x="322.35" y="760" font-size="12" textLength="71.67" lengthAdjust="spacingAndGlyphs">Decreasing</text>
<text x="417.94" y="760" font-size="12" textLength="30.56" lengthAdjust="spacingAndGlyphs">Tabu</text>
<text x="452.87" y="760" font-size="12" textLength="44.45" lengthAdjust="spacingAndGlyphs">Search</text>
<text x="520.79" y="760" font-size="12" textLength="61.92" lengthAdjust="spacingAndGlyphs">Simulated</text>
<text x="586.57" y="760" font-size="12" textLength="61.19" lengthAdjust="spacingAndGlyphs">Annealing</text>
<text x="652.87" y="760" font-size="12" textLength="57.35" lengthAdjust="spacingAndGlyphs">(favorite)</text>
<text x="733.6" y="760" font-size="12" textLength="26.93" lengthAdjust="spacingAndGlyphs">Late</text>
<text x="765.12" y="760" font-size="12" textLength="73.55" lengthAdjust="spacingAndGlyphs">acceptance</text>
<text x="509.55" y="733.8" font-size="12" textLength="29.42" lengthAdjust="spacingAndGlyphs">Time</text>
<text x="543.12" y="733.8" font-size="12" textLength="39.3" lengthAdjust="spacingAndGlyphs">spend</text>
<text transform="translate(22.2 451.71) rotate(-90)" x="0" y="0" font-size="12" textLength="48.76" lengthAdjust="spacingAndGlyphs">Calculate</text>
<text transform="translate(22.2 399.02) rotate(-90)" x="0" y="0" font-size="12" textLength="29.64" lengthAdjust="spacingAndGlyphs">count</text>
<text transform="translate(22.2 366.22) rotate(-90)" x="0" y="0" font-size="12" textLength="16.25" lengthAdjust="spacingAndGlyphs">per</text>
<text transform="translate(22.2 344.76) rotate(-90)" x="0" y="0" font-size="12" textLength="40.77" lengthAdjust="spacingAndGlyphs">second</text>
</g></svg></body></html>
